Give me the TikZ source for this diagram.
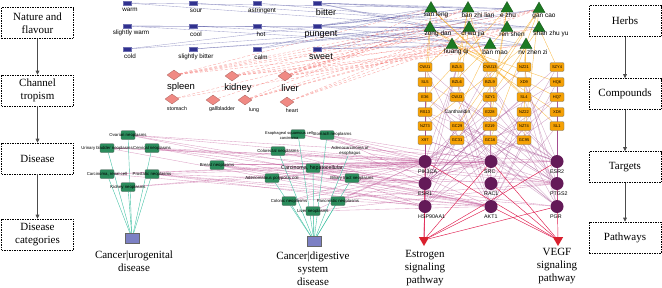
\documentclass[tikz,border=0pt]{standalone}
\usepackage{fontspec}
\setmainfont{Liberation Serif}
\setsansfont{Liberation Sans}
\usepackage{tikz}
\usetikzlibrary{arrows.meta, positioning, shapes.geometric}

\definecolor{flavblue}{HTML}{30318F}
\definecolor{chanpink}{HTML}{F08A84}
\definecolor{herbgreen}{HTML}{1C7A22}
\definecolor{cmporange}{HTML}{F5A105}
\definecolor{tgtpurple}{HTML}{641A58}
\definecolor{disgreen}{HTML}{2B8C5C}
\definecolor{catblue}{HTML}{7C80C4}
\definecolor{pathred}{HTML}{D9202E}
\definecolor{catteal}{HTML}{45C2A5}
\definecolor{cmpline}{HTML}{A24A8E}
\definecolor{disline}{HTML}{B8408A}

\pgfdeclarelayer{edges}
\pgfsetlayers{edges,main}

\tikzset{
  stagebox/.style={draw, dash pattern=on 1.5pt off 1pt, line width=0.6pt, minimum width=72pt, minimum height=31pt,
    align=center, inner sep=1pt, font=\fontsize{11}{13.5}\selectfont},
  stagearrow/.style={-{Triangle[length=4pt,width=3.6pt]}, line width=0.7pt, black!70},
  flav/.style={rectangle, fill=flavblue, draw=flavblue!70!white, minimum width=8pt, minimum height=4.5pt, inner sep=0pt, line width=0.3pt},
  chan/.style={diamond, fill=chanpink, draw=chanpink!70!black, minimum width=14pt, minimum height=10pt, inner sep=0pt, line width=0.3pt},
  herb/.style={regular polygon, regular polygon sides=3, fill=herbgreen, draw=herbgreen!60!black, minimum size=14pt, inner sep=0pt, line width=0.3pt},
  cmp/.style={rectangle, rounded corners=1.2pt, fill=cmporange, draw=black!55, minimum width=14pt, minimum height=9pt, inner sep=0pt,
    line width=0.3pt, font=\sffamily\fontsize{4}{4}\selectfont},
  tgt/.style={circle, fill=tgtpurple, minimum size=13pt, inner sep=0pt},
  dis/.style={rectangle, rounded corners=1pt, fill=disgreen, draw=black!60, minimum width=14pt, minimum height=9pt, inner sep=0pt, line width=0.3pt},
  cat/.style={rectangle, fill=catblue, draw=black!60, minimum width=14pt, minimum height=10pt, inner sep=0pt, line width=0.3pt},
  pathway/.style={regular polygon, regular polygon sides=3, shape border rotate=180, fill=pathred, minimum size=12pt, inner sep=0pt},
  flbl/.style={inner sep=0pt, font=\sffamily\fontsize{6.3}{7}\selectfont},
  flblbig/.style={inner sep=0pt, font=\sffamily\fontsize{9}{10}\selectfont},
  clbl/.style={inner sep=0pt, font=\sffamily\fontsize{5.3}{6}\selectfont},
  clblbig/.style={inner sep=0pt, font=\sffamily\fontsize{9.5}{10}\selectfont},
  hlbl/.style={inner sep=0pt, font=\sffamily\fontsize{6.5}{7}\selectfont},
  tlbl/.style={inner sep=0pt, font=\sffamily\fontsize{5.3}{6}\selectfont},
  dlbl/.style={inner sep=0pt, align=center, font=\sffamily\fontsize{4.3}{4.8}\selectfont},
  caption/.style={inner sep=0pt, align=center, font=\fontsize{11}{13}\selectfont},
  flavedge/.style={flavblue, opacity=.45, line width=0.35pt},
  chanedge/.style={chanpink!80!red, opacity=.65, line width=0.35pt, densely dashed},
  herbedge/.style={cmporange, opacity=.65, line width=0.4pt},
  cmpedge/.style={cmpline, opacity=.5, line width=0.35pt},
  disedge/.style={disline, opacity=.5, line width=0.35pt},
  catedge/.style={catteal, line width=0.4pt},
  pathedge/.style={pathred!85!magenta, line width=0.45pt}
}

\begin{document}
\begin{tikzpicture}[x=1pt, y=-1pt]
  \useasboundingbox (0,0) rectangle (662,287);

  % 左の段階
  \node[stagebox] (s1) at (37.5,23) {Nature and\\flavour};
  \node[stagebox] (s2) at (37.5,90.5) {Channel\\tropism};
  \node[stagebox] (s3) at (37.5,158.5) {Disease};
  \node[stagebox] (s4) at (37.5,234.5) {Disease\\categories};
  \foreach \a/\b in {s1/s2, s2/s3, s3/s4} {
    \draw[stagearrow] (\a) -- (\b);
  }

  % 右の段階
  \node[stagebox] (r1) at (625,21) {Herbs};
  \node[stagebox] (r2) at (625,94) {Compounds};
  \node[stagebox] (r3) at (625,167) {Targets};
  \node[stagebox] (r4) at (625,237.5) {Pathways};
  \foreach \a/\b in {r1/r2, r2/r3, r3/r4} {
    \draw[stagearrow] (\a) -- (\b);
  }

  % 性味の層
  \foreach \n/\x/\y/\lx/\ly/\t in {fw/127/3/130/10/warm, fs/193/3/196/11/sour, fa/257/3/262/11/astringent,
      fsw/127/26/131/33/slightly warm, fc/193/26/196/34/cool, fh/257/26/261/34/hot,
      fcd/127/49/130/56/cold, fsb/193/49/196/57/slightly bitter, fca/257/49/261/57/calm} {
    \node[flav] (\n) at (\x,\y) {};
    \node[flbl] (\n-t) at (\lx,\ly) {\t};
  }
  \foreach \n/\x/\y/\lx/\ly/\t in {fb/317/3/326/12/bitter, fp/317/26/321/35/pungent, fsu/317/49/321/57/sweet} {
    \node[flav] (\n) at (\x,\y) {};
    \node[flblbig] (\n-t) at (\lx,\ly) {\t};
  }

  % 帰経の層
  \foreach \n/\x/\y/\lx/\ly/\t in {cspl/174/75/181/87/spleen, ckid/232/76/238/88/kidney, cliv/285/76/290/88/liver} {
    \node[chan] (\n) at (\x,\y) {};
    \node[clblbig] (\n-t) at (\lx,\ly) {\t};
  }
  \foreach \n/\x/\y/\lx/\ly/\t in {csto/172/99/177/109/stomach, cgal/213/100/222/109/gallbladder,
      clun/245/100/254/110/lung, chea/287/102/292/111/heart} {
    \node[chan] (\n) at (\x,\y) {};
    \node[clbl] (\n-t) at (\lx,\ly) {\t};
  }

  % 生薬の層
  \foreach \n/\x/\y/\lx/\ly/\t in {hsl/431/8.5/436/15/san leng, hbz/468/8.5/478/15/ban zhi lian,
      hez/507/8.5/508/15/e zhu, hgc/539/9/544/16/gan cao,
      hzd/430/28/438/34/zong dan, hcw/469/28/473/34/ci wu jia,
      hrs/507/28/512/34/ren shen, hsz/539/28/551/34/shan zhu yu,
      hhq/452/45/456/52/huang qi, hbm/490/45/495/52/ban mao, hnv/526/45/533/52/nv zhen zi} {
    \node[herb] (\n) at (\x,\y) {};
    \node[hlbl] (\n-t) at (\lx,\ly) {\t};
  }

  % 化合物の層
  \foreach \n/\x/\y/\t in {k11/425/67/CWJ1, k12/425/82/SL5, k13/425/97/E36, k14/425/112/RS13, k15/425/126/NZ73, k16/425/140/X97,
      k21/457/67/BZL5, k22/457/82/BZL6, k23/457/97/CWJ3, k25/457/126/GC29, k26/457/140/GC31,
      k31/490/67/CWJ13, k32/490/82/BZL9, k33/490/97/SZY1, k34/490/112/E228, k35/490/126/E219, k36/490/140/GC16,
      k41/524/67/NZ21, k42/524/82/XD9, k43/524/97/SL4, k44/524/112/NZ22, k45/524/126/NZ74, k46/524/140/GC95,
      k51/557/67/SZY4, k52/557/82/HQ6, k53/557/97/HQ7, k54/557/112/XD8, k55/557/126/SL1} {
    \node[cmp] (\n) at (\x,\y) {\t};
  }
  \node[inner sep=0.5pt, font=\sffamily\fontsize{5}{5}\selectfont] (k24) at (457.5,112) {Cantharidin};

  % 標的の層
  \foreach \n/\x/\y/\t in {pik/425/161.5/PIK3CA, src/491/161.5/SRC, esr2/557/161.5/ESR2,
      esr1/425/183.5/ESR1, rac/491/183.5/RAC1, ptg/557/183.5/PTGS2,
      hsp/425/206.5/HSP90AA1, akt/491/206.5/AKT1, pgr/557/206.5/PGR} {
    \node[tgt] (\n) at (\x,\y) {};
    \node[tlbl, anchor=west] (\n-t) at (\x-7,\y+10.5) {\t};
  }

  % 経路の層
  \node[pathway] (pe) at (424,240) {};
  \node[pathway] (pv) at (558,240) {};
  \node[caption] (pe-t) at (425,268) {Estrogen\\signaling\\pathway};
  \node[caption] (pv-t) at (557,266.5) {VEGF\\signaling\\pathway};

  % 疾患の層
  \foreach \n/\x/\y/\t in {dov/128/135/Ovarian neoplasms, dub/107/148/Urinary bladder neoplasms,
      dce/152/148/Cervical neoplasms, dcr/107/174/{Carcinoma, renal cell},
      dpr/152/174/Prostatic neoplasms, dki/128/187/Kidney neoplasms,
      dco/278/151/Colorectal neoplasms,
      dbr/217/165/Breast neoplasms, dap/272/178/Adenomatous polyposis coli,
      dbi/352/178/Biliary tract neoplasms, dcn/289/201/Colonic neoplasms,
      dpa/338/201/Pancreatic neoplasms, dli/313/211/Liver neoplasms} {
    \node[dis] (\n) at (\x,\y) {};
    \node[dlbl] (\n-t) at (\x,\y) {\t};
  }
  \node[dis] (des) at (298,134) {};
  \node[dlbl, font=\sffamily\fontsize{4}{4.6}\selectfont] (des-t) at (289,135.5) {Esophageal squamous cell\\carcinoma};
  \node[dis] (dst) at (327,135) {};
  \node[dlbl] (dst-t) at (332,134) {Stomach neoplasms};
  \node[dis] (dhc) at (313,168) {};
  \node[inner sep=0pt, font=\sffamily\fontsize{5.3}{6}\selectfont] (dhc-t) at (312,168) {Carcinoma, hepatocellular};
  \node[dlbl] (dad) at (350,151) {Adenocarcinoma of\\esophagus};

  % 疾患分類
  \node[cat] (cat1) at (132,238.5) {};
  \node[caption] (cat1-t) at (134,261.5) {Cancer|urogenital\\disease};
  \node[cat] (cat2) at (314,241) {};
  \node[caption] (cat2-t) at (313,268.5) {Cancer|digestive\\system\\disease};

  \begin{pgfonlayer}{edges}
    % 性味・帰経 → 生薬
    \foreach \h/\fl/\ch in {hsl/{fb,fp,fca}/{cspl,cliv}, hbz/{fp,fb,fcd}/{clun,cliv,ckid},
        hez/{fp,fb,fw}/{cliv,cspl}, hgc/{fsu,fca}/{chea,clun,cspl,csto},
        hzd/{fb,fcd}/{cliv,cgal}, hcw/{fp,fsb,fw}/{cspl,ckid,chea},
        hrs/{fsu,fsb,fsw}/{cspl,clun,chea}, hsz/{fs,fa,fsw}/{cliv,ckid},
        hhq/{fsu,fsw}/{clun,cspl}, hbm/{fp,fh}/{cliv,csto,ckid}, hnv/{fsu,fb,fc}/{cliv,ckid}} {
      \foreach \f in \fl {
        \draw[flavedge] (\f) -- (\h);
      }
      \foreach \c in \ch {
        \draw[chanedge] (\c) -- (\h);
      }
    }

    % 生薬 → 化合物
    \foreach \h/\ks in {hcw/{k11,k23,k31}, hsl/{k12,k43,k55}, hez/{k13,k34,k35}, hrs/{k14},
        hnv/{k15,k41,k44,k45}, hzd/{k16,k42,k54}, hbz/{k21,k22,k32}, hbm/{k24},
        hgc/{k25,k26,k36,k46}, hsz/{k33,k51}, hhq/{k52,k53}} {
      \foreach \k in \ks {
        \draw[herbedge] (\h) -- (\k);
      }
    }

    % 化合物 → 標的
    \foreach \k/\ts in {k11/{esr1,akt,ptg}, k12/{pik,esr2}, k13/{pgr,esr1,ptg}, k14/{esr1,esr2,pgr,akt},
        k15/{esr1,pik,hsp}, k16/{ptg,src}, k21/{pik,esr1,ptg,hsp}, k22/{src,akt}, k23/{esr2,rac},
        k24/{akt,src}, k25/{esr1,esr2,pgr,ptg}, k26/{pik,hsp}, k31/{esr1,akt,src}, k32/{pgr,ptg},
        k33/{esr2,esr1}, k34/{hsp,pik}, k35/{src,rac,esr1}, k36/{esr1,esr2,ptg,pgr},
        k41/{pik,pgr}, k42/{esr2,ptg}, k43/{akt,esr1,pgr}, k44/{hsp,src}, k45/{pik,esr2},
        k46/{esr1,ptg,akt}, k51/{esr1,pgr,rac}, k52/{pik,akt,esr2,ptg}, k53/{esr1,src},
        k54/{ptg,pgr,hsp}, k55/{esr2,akt}} {
      \foreach \t in \ts {
        \draw[cmpedge] (\k) -- (\t);
      }
    }

    % 疾患 → 標的
    \foreach \d/\ts in {dov/{pik,esr1,akt,esr2}, dub/{pik,src,hsp}, dce/{pik,esr1,ptg,akt},
        dcr/{pik,src,akt}, dpr/{esr1,esr2,pgr,akt,hsp}, dki/{pik,src},
        des/{pik,ptg}, dst/{pik,akt,src,ptg}, dco/{pik,ptg,akt}, dad/{pik,esr1},
        dbr/{esr1,esr2,pgr,pik,akt,hsp,src}, dhc/{pik,src,akt,hsp,esr1,rac},
        dap/{pik,ptg}, dbi/{pik,akt}, dcn/{pik,ptg,src}, dpa/{pik,akt,src}, dli/{pik,akt,ptg}} {
      \foreach \t in \ts {
        \draw[disedge] (\d) -- (\t);
      }
    }

    % 分類 → 疾患
    \foreach \d in {dov,dub,dce,dcr,dpr,dki} {
      \draw[catedge] (cat1) -- (\d);
    }
    \foreach \d in {des,dst,dco,dad,dhc,dap,dbi,dcn,dpa,dli} {
      \draw[catedge] (cat2) -- (\d);
    }

    % 標的 → 経路
    \foreach \t in {pik,src,esr1,esr2,hsp,akt,pgr} {
      \draw[pathedge] (\t) -- (pe);
    }
    \foreach \t in {pik,src,rac,akt,ptg} {
      \draw[pathedge] (\t) -- (pv);
    }
  \end{pgfonlayer}
\end{tikzpicture}
\end{document}
